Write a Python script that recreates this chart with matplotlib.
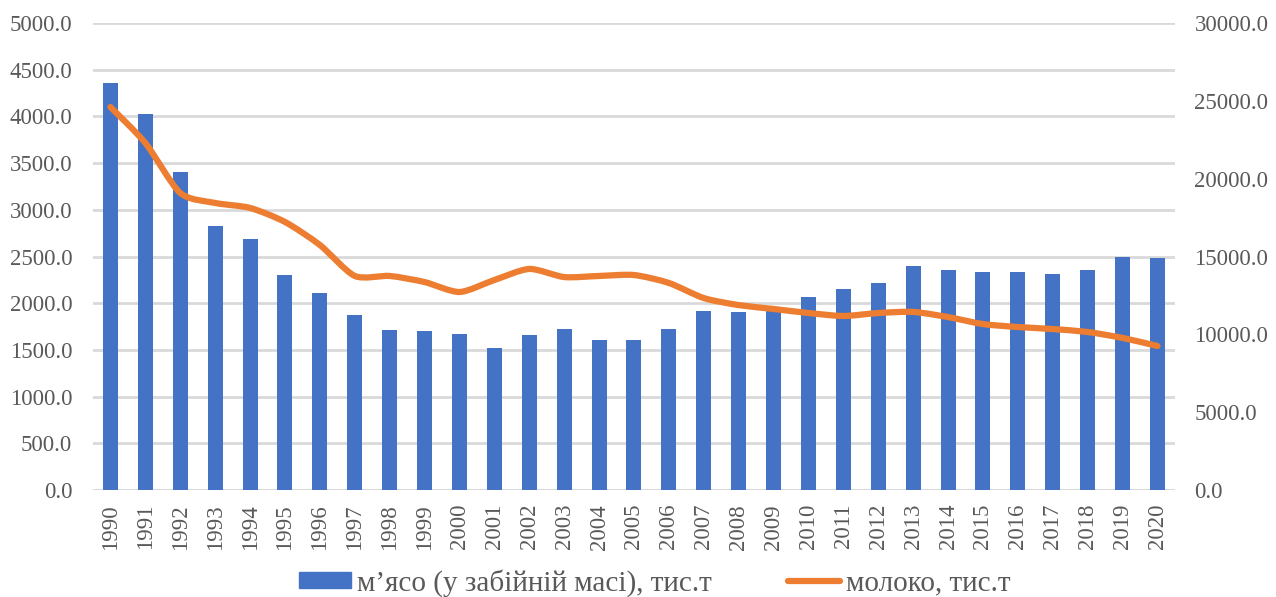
import numpy as np
import matplotlib.pyplot as plt
from matplotlib.path import Path
from matplotlib.patches import PathPatch
from matplotlib.lines import Line2D

plt.rcParams['font.family'] = ['Liberation Serif', 'DejaVu Serif']

years = [str(y) for y in range(1990, 2021)]

# м'ясо (у забійній масі), тис.т
meat = [4358, 4026, 3405, 2827, 2687, 2302, 2109, 1874, 1713, 1702,
        1670, 1520, 1660, 1724, 1606, 1606, 1724, 1916, 1906, 1940,
        2066, 2152, 2216, 2398, 2355, 2334, 2334, 2313, 2355, 2495, 2484]

# молоко, тис.т
milk = [24600, 22290, 19080, 18440, 18120, 17220, 15740, 13750, 13750, 13360,
        12720, 13490, 14200, 13680, 13750, 13810, 13300, 12330, 11880, 11630,
        11370, 11180, 11370, 11440, 11110, 10660, 10470, 10340, 10150, 9770, 9250]

blue = '#4472c4'
orange = '#ed7d31'
grey_txt = '#595959'
grid_c = '#d9d9d9'

fig = plt.figure(figsize=(12.76, 5.97), dpi=100)
ax = fig.add_axes([0.0729, 0.1792, 0.8479, 0.7823])
ax2 = ax.twinx()

x = np.arange(len(years))
ax.bar(x, meat, width=0.43, color=blue, zorder=2)

# smoothed line (Excel style), bezier segments through the data points
pts = np.column_stack([x, milk]).astype(float)
ext = np.vstack([pts[0], pts, pts[-1]])
verts = [tuple(pts[0])]
codes = [Path.MOVETO]
for i in range(len(pts) - 1):
    p0, p1, p2, p3 = ext[i], ext[i + 1], ext[i + 2], ext[i + 3]
    c1 = p1 + (p2 - p0) / 8
    c2 = p2 - (p3 - p1) / 8
    verts += [tuple(c1), tuple(c2), tuple(p2)]
    codes += [Path.CURVE4] * 3
ax2.add_patch(PathPatch(Path(verts, codes), fill=False, edgecolor=orange, lw=4.5,
                        capstyle='round', joinstyle='round', zorder=3))

ax.set_xlim(-0.5, len(years) - 0.5)
ax.set_ylim(0, 5000)
ax2.set_ylim(0, 30000)
ax.set_yticks(np.arange(0, 5001, 500))
ax2.set_yticks(np.arange(0, 30001, 5000))
ax.set_yticklabels([f'{v:.1f}' for v in np.arange(0, 5001, 500)])
ax2.set_yticklabels([f'{v:.1f}' for v in np.arange(0, 30001, 5000)])

ax.set_xticks(x)
ax.set_xticklabels(years, rotation=90)

ax.yaxis.grid(True, color=grid_c, lw=2, zorder=0)
ax.set_axisbelow(True)
for a in (ax, ax2):
    for s in a.spines.values():
        s.set_visible(False)
    a.tick_params(length=0, labelsize=16.5, labelcolor=grey_txt)
ax.tick_params(axis='y', pad=15)
ax.tick_params(axis='x', pad=10)
ax2.tick_params(axis='y', pad=14)
ax.axhline(0, color=grid_c, lw=2, zorder=1)

ax.set_zorder(ax2.get_zorder() - 1)
ax.patch.set_visible(False)

handles = [plt.Rectangle((0, 0), 1, 1, color=blue),
           Line2D([], [], color=orange, lw=4.5, solid_capstyle='round')]
labels = ['м’ясо (у забійній масі), тис.т', 'молоко, тис.т']
fig.legend(handles, labels, loc='center', bbox_to_anchor=(0.513, 0.024), ncol=2,
           frameon=False, fontsize=21, handlelength=1.8, handleheight=0.5,
           columnspacing=2.6, handletextpad=0.2, labelcolor=grey_txt)

fig.savefig('out.png', dpi=100)
